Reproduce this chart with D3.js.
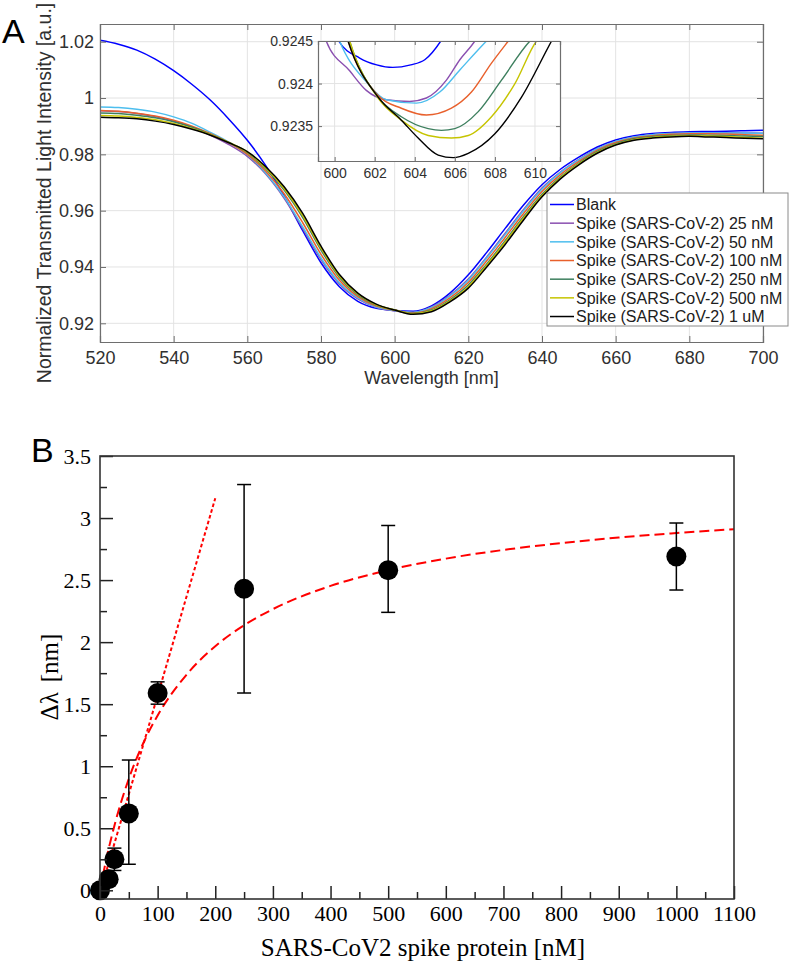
<!DOCTYPE html>
<html><head><meta charset="utf-8">
<script src="https://cdn.jsdelivr.net/npm/d3@7"></script>
<style>body{margin:0;background:#fff} svg{display:block}</style>
</head><body><svg id="c" width="790" height="964"></svg>
<script>
// ---------- Panel A data ----------
const wavelengths = [520,525,530,535,540,545,550,555,560,565,570,575,580,585,590,595,600,605,610,615,620,625,630,635,640,645,650,655,660,665,670,675,680,685,690,695,700];
const seriesNames = ['Blank','Spike (SARS-CoV-2) 25 nM','Spike (SARS-CoV-2) 50 nM','Spike (SARS-CoV-2) 100 nM','Spike (SARS-CoV-2) 250 nM','Spike (SARS-CoV-2) 500 nM','Spike (SARS-CoV-2) 1 uM'];
const seriesColors = ['#0000ff','#8a4fb0','#4dbeee','#e8602c','#3d7f5e','#c6c400','#000000'];
const blank    = [1.0205,1.0191,1.0170,1.0138,1.0097,1.0048,0.9992,0.9925,0.9850,0.9760,0.9652,0.9530,0.9415,0.9330,0.9278,0.9253,0.92455,0.9243,0.9262,0.9307,0.9372,0.9452,0.9537,0.9620,0.9692,0.9747,0.9790,0.9826,0.9851,0.9866,0.9874,0.9878,0.9880,0.9881,0.9882,0.9884,0.9886];
const spike25  = [0.9955,0.9952,0.9945,0.9934,0.9918,0.9896,0.9868,0.9835,0.9793,0.9730,0.9644,0.9537,0.9426,0.9340,0.9287,0.9257,0.9244,0.9239,0.9258,0.9299,0.9357,0.9436,0.9520,0.9604,0.9680,0.9737,0.9782,0.9820,0.9846,0.9862,0.9870,0.9874,0.9876,0.9877,0.9877,0.9876,0.9875];
const spike50  = [0.9968,0.9966,0.9960,0.9950,0.9933,0.9910,0.9878,0.9843,0.9798,0.9734,0.9649,0.9543,0.9432,0.9344,0.9290,0.9258,0.92455,0.92387,0.9256,0.9297,0.9353,0.9432,0.9515,0.9600,0.9676,0.9735,0.9780,0.9819,0.9846,0.9862,0.9870,0.9874,0.9876,0.9876,0.9876,0.9876,0.9875];
const spike100 = [0.9956,0.9953,0.9946,0.9936,0.9921,0.9900,0.9873,0.9841,0.9800,0.9740,0.9660,0.9558,0.9445,0.9353,0.9295,0.9261,0.9247,0.92363,0.9252,0.9290,0.9345,0.9422,0.9505,0.9590,0.9668,0.9728,0.9775,0.9815,0.9842,0.9858,0.9866,0.9871,0.9873,0.9873,0.9872,0.9870,0.9868];
const spike250 = [0.9947,0.9945,0.9939,0.9930,0.9916,0.9896,0.9871,0.9842,0.9806,0.9748,0.9673,0.9576,0.9460,0.9363,0.9301,0.9265,0.92475,0.92346,0.9247,0.9283,0.9336,0.9411,0.9493,0.9579,0.9658,0.9720,0.9769,0.9810,0.9838,0.9855,0.9863,0.9867,0.9869,0.9868,0.9867,0.9865,0.9863];
const spike500 = [0.9938,0.9936,0.9931,0.9923,0.9910,0.9892,0.9870,0.9842,0.9808,0.9752,0.9679,0.9583,0.9467,0.9368,0.9304,0.9266,0.92475,0.92337,0.9245,0.9280,0.9330,0.9406,0.9488,0.9574,0.9654,0.9717,0.9766,0.9807,0.9835,0.9852,0.9860,0.9864,0.9866,0.9865,0.9863,0.9860,0.9857];
const spike1uM = [0.9932,0.9930,0.9926,0.9918,0.9906,0.9889,0.9868,0.9841,0.9810,0.9756,0.9685,0.9591,0.9474,0.9373,0.9307,0.9268,0.9247,0.92318,0.9241,0.9276,0.9325,0.9400,0.9480,0.9567,0.9649,0.9713,0.9763,0.9804,0.9833,0.9850,0.9858,0.9862,0.9864,0.9862,0.9860,0.9857,0.9855];
const mainSeries = [blank,spike25,spike50,spike100,spike250,spike500,spike1uM];
const xTicksA = [520,540,560,580,600,620,640,660,680,700];
const yTicksA = [0.92,0.94,0.96,0.98,1,1.02];
const yTickLabelsA = ['0.92','0.94','0.96','0.98','1','1.02'];

// Inset (zoom of the dip minimum): [wavelength, intensity]
const insetBlank    = [[599.5,0.9249],[600.2,0.9245],[601.25,0.9243],[602.1,0.92422],[602.9,0.92419],[603.8,0.92422],[604.5,0.92428],[605.3,0.9245],[605.8,0.9247]];
const insetSpike25  = [[599.3,0.9247],[599.58,0.9245],[600.75,0.92415],[601.58,0.92392],[602.58,0.92381],[603.75,0.92379],[604.58,0.92383],[605.58,0.92404],[606.25,0.92428],[607.0,0.9245],[607.5,0.9247]];
const insetSpike50  = [[599.8,0.9248],[600.25,0.9245],[601.58,0.92402],[602.58,0.92381],[604.08,0.92377],[605.25,0.9239],[606.25,0.92416],[607.58,0.9245],[608.0,0.9246]];
const insetSpike100 = [[600.3,0.9248],[600.67,0.9245],[602.17,0.92386],[603.33,0.92371],[604.58,0.92363],[605.83,0.92371],[606.83,0.9239],[607.83,0.92424],[608.67,0.9245],[609.0,0.9246]];
const insetSpike250 = [[600.4,0.9248],[600.75,0.9245],[602.17,0.92384],[603.33,0.92361],[604.67,0.92347],[605.33,0.92345],[606.0,0.92347],[607.17,0.92367],[608.33,0.92404],[609.75,0.9245],[610.2,0.9246]];
const insetSpike500 = [[600.4,0.9248],[600.75,0.9245],[602.17,0.92383],[603.33,0.92357],[604.67,0.92339],[605.83,0.92336],[606.67,0.92339],[607.83,0.92361],[609.0,0.924],[610.08,0.9245],[610.5,0.9246]];
const insetSpike1uM = [[600.3,0.9248],[600.67,0.9245],[602.17,0.92384],[603.33,0.92357],[604.17,0.92336],[605.17,0.92316],[605.92,0.92313],[606.67,0.92318],[608.0,0.92341],[609.33,0.92384],[610.83,0.9245],[611.3,0.9247]];
const insetSeries = [insetBlank,insetSpike25,insetSpike50,insetSpike100,insetSpike250,insetSpike500,insetSpike1uM];
const insetXTicks = [600,602,604,606,608,610];
const insetYTicks = [0.9235,0.924,0.9245];
const insetYTickLabels = ['0.9235','0.924','0.9245'];

// ---------- Panel B data ----------
const concentration = [0,15,25,50,100,250,500,1000];
const deltaLambda   = [0,0.09,0.25,0.62,1.59,2.43,2.58,2.69];
const errLow        = [0,0.05,0.16,0.21,1.50,1.59,2.24,2.42];
const errHigh       = [0,0.13,0.34,1.05,1.68,3.27,2.94,2.96];
const fitConc  = [0,10,25,50,75,100,150,200,250,300,400,500,600,700,800,900,1000,1100];
const fitShift = [0,0.231,0.521,0.899,1.185,1.409,1.737,1.967,2.136,2.266,2.453,2.580,2.673,2.743,2.798,2.843,2.879,2.910];
const linConc  = [0,200];
const linShift = [-0.02,3.16];
const xTicksB = [0,100,200,300,400,500,600,700,800,900,1000,1100];
const xMinorB = [50,150,250,350,450,550,650,750,850,950,1050];
const yTicksB = [0,0.5,1,1.5,2,2.5,3,3.5];
const yTickLabelsB = ['0','0.5','1','1.5','2','2.5','3','3.5'];
const yMinorB = [0.25,0.75,1.25,1.75,2.25,2.75,3.25];

// ---------- Drawing ----------
const svg = d3.select('#c');
const SANS = "'Liberation Sans', Arial, Helvetica, sans-serif";
const SERIF = "'Liberation Serif', 'Times New Roman', serif";
const defs = svg.append('defs');

// ===== Panel A =====
const A = {l:100, r:763, t:24, b:342};
const xA = d3.scaleLinear().domain([520,700]).range([A.l,A.r]);
const yA = d3.scaleLinear().domain([0.91336,1.02629]).range([A.b,A.t]);
defs.append('clipPath').attr('id','clipA').append('rect').attr('x',A.l).attr('y',A.t).attr('width',A.r-A.l).attr('height',A.b-A.t);

// grid
const gridA = svg.append('g');
gridA.selectAll('line.vx').data(xTicksA).join('line').attr('x1',d=>xA(d)).attr('x2',d=>xA(d)).attr('y1',A.t).attr('y2',A.b).attr('stroke','#e3e3e3').attr('stroke-width',1);
gridA.selectAll('line.hy').data(yTicksA).join('line').attr('x1',A.l).attr('x2',A.r).attr('y1',d=>yA(d)).attr('y2',d=>yA(d)).attr('stroke','#e3e3e3').attr('stroke-width',1);

// curves
const lineA = d3.line().x((d,i)=>xA(wavelengths[i])).y(d=>yA(d)).curve(d3.curveMonotoneX);
svg.append('g').attr('clip-path','url(#clipA)').selectAll('path').data(mainSeries).join('path')
  .attr('d',d=>lineA(d)).attr('fill','none').attr('stroke',(d,i)=>seriesColors[i]).attr('stroke-width',1.5);

// axes
const axA = svg.append('g').attr('font-family',SANS);
axA.append('g').attr('transform',`translate(0,${A.b})`)
  .call(d3.axisBottom(xA).tickValues(xTicksA).tickSize(-6).tickPadding(9).tickFormat(d3.format('d')));
axA.append('g').attr('transform',`translate(${A.l},0)`)
  .call(d3.axisLeft(yA).tickValues(yTicksA).tickSize(-6).tickPadding(6).tickFormat((d,i)=>yTickLabelsA[i]));
axA.append('g').attr('transform',`translate(0,${A.t})`).call(d3.axisTop(xA).tickValues(xTicksA).tickSize(-6).tickFormat(''));
axA.append('g').attr('transform',`translate(${A.r},0)`).call(d3.axisRight(yA).tickValues(yTicksA).tickSize(-6).tickFormat(''));
axA.selectAll('.domain').attr('stroke','#6e6e6e').attr('stroke-width',1.2);
axA.selectAll('.tick line').attr('stroke','#6e6e6e');
axA.selectAll('.tick text').attr('fill','#303030').attr('font-size',18).attr('font-family',SANS);

svg.append('text').attr('x',(A.l+A.r)/2).attr('y',384).attr('text-anchor','middle')
  .attr('font-family',SANS).attr('font-size',18).attr('fill','#303030').text('Wavelength [nm]');
svg.append('text').attr('transform',`translate(51,193) rotate(-90)`).attr('text-anchor','middle')
  .attr('font-family',SANS).attr('font-size',19.5).attr('fill','#303030').text('Normalized Transmitted Light Intensity [a.u.]');
svg.append('text').attr('x',2).attr('y',43).attr('font-family',SANS).attr('font-size',34).attr('fill','#000').text('A');

// ===== Inset =====
const I = {l:318, r:560, t:41, b:161};
const xI = d3.scaleLinear().domain([599.17,611.25]).range([I.l,I.r]);
const yI = d3.scaleLinear().domain([0.92309,0.9245]).range([I.b,I.t]);
defs.append('clipPath').attr('id','clipI').append('rect').attr('x',I.l).attr('y',I.t).attr('width',I.r-I.l).attr('height',I.b-I.t);
svg.append('rect').attr('x',I.l).attr('y',I.t).attr('width',I.r-I.l).attr('height',I.b-I.t).attr('fill','#fff');
const gridI = svg.append('g');
gridI.selectAll('line.v').data(insetXTicks).join('line').attr('x1',d=>xI(d)).attr('x2',d=>xI(d)).attr('y1',I.t).attr('y2',I.b).attr('stroke','#e3e3e3');
gridI.selectAll('line.h').data(insetYTicks).join('line').attr('x1',I.l).attr('x2',I.r).attr('y1',d=>yI(d)).attr('y2',d=>yI(d)).attr('stroke','#e3e3e3');
const lineI = d3.line().x(d=>xI(d[0])).y(d=>yI(d[1])).curve(d3.curveMonotoneX);
svg.append('g').attr('clip-path','url(#clipI)').selectAll('path').data(insetSeries).join('path')
  .attr('d',d=>lineI(d)).attr('fill','none').attr('stroke',(d,i)=>seriesColors[i]).attr('stroke-width',1.4);
const axI = svg.append('g');
axI.append('g').attr('transform',`translate(0,${I.b})`).call(d3.axisBottom(xI).tickValues(insetXTicks).tickSize(-4).tickPadding(7).tickFormat(d3.format('d')));
axI.append('g').attr('transform',`translate(${I.l},0)`).call(d3.axisLeft(yI).tickValues(insetYTicks).tickSize(-4).tickPadding(5).tickFormat((d,i)=>insetYTickLabels[i]));
axI.append('g').attr('transform',`translate(0,${I.t})`).call(d3.axisTop(xI).tickValues(insetXTicks).tickSize(-4).tickFormat(''));
axI.append('g').attr('transform',`translate(${I.r},0)`).call(d3.axisRight(yI).tickValues(insetYTicks).tickSize(-4).tickFormat(''));
axI.selectAll('.domain').attr('stroke','#6e6e6e').attr('stroke-width',1.2);
axI.selectAll('.tick line').attr('stroke','#6e6e6e');
axI.selectAll('.tick text').attr('fill','#303030').attr('font-size',14).attr('font-family',SANS);

// ===== Legend =====
const L = {x:547, y:193, w:241, h:133, row:18.67};
const leg = svg.append('g');
leg.append('rect').attr('x',L.x).attr('y',L.y).attr('width',L.w).attr('height',L.h).attr('fill','#fff').attr('stroke','#8a8a8a').attr('stroke-width',1);
const items = leg.selectAll('g.it').data(seriesNames).join('g').attr('transform',(d,i)=>`translate(0,${L.y+11.5+i*L.row})`);
items.append('line').attr('x1',L.x+3).attr('x2',L.x+27).attr('y1',0).attr('y2',0).attr('stroke',(d,i)=>seriesColors[i]).attr('stroke-width',1.5);
items.append('text').attr('x',L.x+29).attr('y',0).attr('dy','0.36em').attr('font-family',SANS).attr('font-size',16).attr('fill','#202020').text(d=>d);

// ===== Panel B =====
const B = {l:100, r:734, t:456, b:899};
const xB = d3.scaleLinear().domain([0,1100]).range([B.l,B.r]);
const yB = d3.scaleLinear().domain([-0.07,3.5]).range([B.b,B.t]);
defs.append('clipPath').attr('id','clipB').append('rect').attr('x',B.l).attr('y',B.t).attr('width',B.r-B.l).attr('height',B.b-B.t);

// fit curves
const fitLine = d3.line().x((d,i)=>xB(fitConc[i])).y(d=>yB(d)).curve(d3.curveMonotoneX);
svg.append('path').attr('clip-path','url(#clipB)').attr('d',fitLine(fitShift)).attr('fill','none')
  .attr('stroke','#ff0000').attr('stroke-width',2).attr('stroke-dasharray','10,5');
const linLine = d3.line().x((d,i)=>xB(linConc[i])).y(d=>yB(d));
svg.append('path').attr('clip-path','url(#clipB)').attr('d',linLine(linShift)).attr('fill','none')
  .attr('stroke','#ff0000').attr('stroke-width',2).attr('stroke-dasharray','3.5,2.5');

// error bars
const eb = svg.append('g').attr('stroke','#000').attr('stroke-width',1.5);
concentration.forEach((c,i)=>{
  if (errHigh[i]===errLow[i]) return;
  const x = xB(c);
  eb.append('line').attr('x1',x).attr('x2',x).attr('y1',yB(errLow[i])).attr('y2',yB(errHigh[i]));
  eb.append('line').attr('x1',x-7).attr('x2',x+7).attr('y1',yB(errLow[i])).attr('y2',yB(errLow[i]));
  eb.append('line').attr('x1',x-7).attr('x2',x+7).attr('y1',yB(errHigh[i])).attr('y2',yB(errHigh[i]));
});
// points
svg.append('g').selectAll('circle').data(concentration).join('circle')
  .attr('cx',d=>xB(d)).attr('cy',(d,i)=>yB(deltaLambda[i])).attr('r',10).attr('fill','#000');

// axes B
const axB = svg.append('g');
axB.append('g').attr('transform',`translate(0,${B.b})`)
  .call(d3.axisBottom(xB).tickValues(xTicksB).tickSize(-13).tickPadding(6).tickFormat(d3.format('d')));
axB.append('g').attr('transform',`translate(0,${B.b})`)
  .call(d3.axisBottom(xB).tickValues(xMinorB).tickSize(-7).tickFormat(''));
axB.append('g').attr('transform',`translate(${B.l},0)`)
  .call(d3.axisLeft(yB).tickValues(yTicksB).tickSize(-13).tickPadding(9).tickFormat((d,i)=>yTickLabelsB[i]));
axB.append('g').attr('transform',`translate(${B.l},0)`)
  .call(d3.axisLeft(yB).tickValues(yMinorB).tickSize(-7).tickFormat(''));
axB.selectAll('.domain').remove();
axB.selectAll('.tick line').attr('stroke','#222').attr('stroke-width',1.5);
axB.selectAll('.tick text').attr('fill','#000').attr('font-size',22).attr('font-family',SERIF);
svg.append('rect').attr('x',B.l).attr('y',B.t).attr('width',B.r-B.l).attr('height',B.b-B.t)
  .attr('fill','none').attr('stroke','#333').attr('stroke-width',1.6);

svg.append('text').attr('x',423).attr('y',956).attr('text-anchor','middle')
  .attr('font-family',SERIF).attr('font-size',25).attr('fill','#000').text('SARS-CoV2 spike protein [nM]');
const yl = svg.append('text').attr('transform',`translate(58,677) rotate(-90)`).attr('text-anchor','middle')
  .attr('font-family',SERIF).attr('font-size',25).attr('fill','#000');
yl.append('tspan').text('Δλ');
yl.append('tspan').attr('dx',10).text('[nm]');
svg.append('text').attr('x',31).attr('y',462).attr('font-family',SANS).attr('font-size',34).attr('fill','#000').text('B');
</script></body></html>
